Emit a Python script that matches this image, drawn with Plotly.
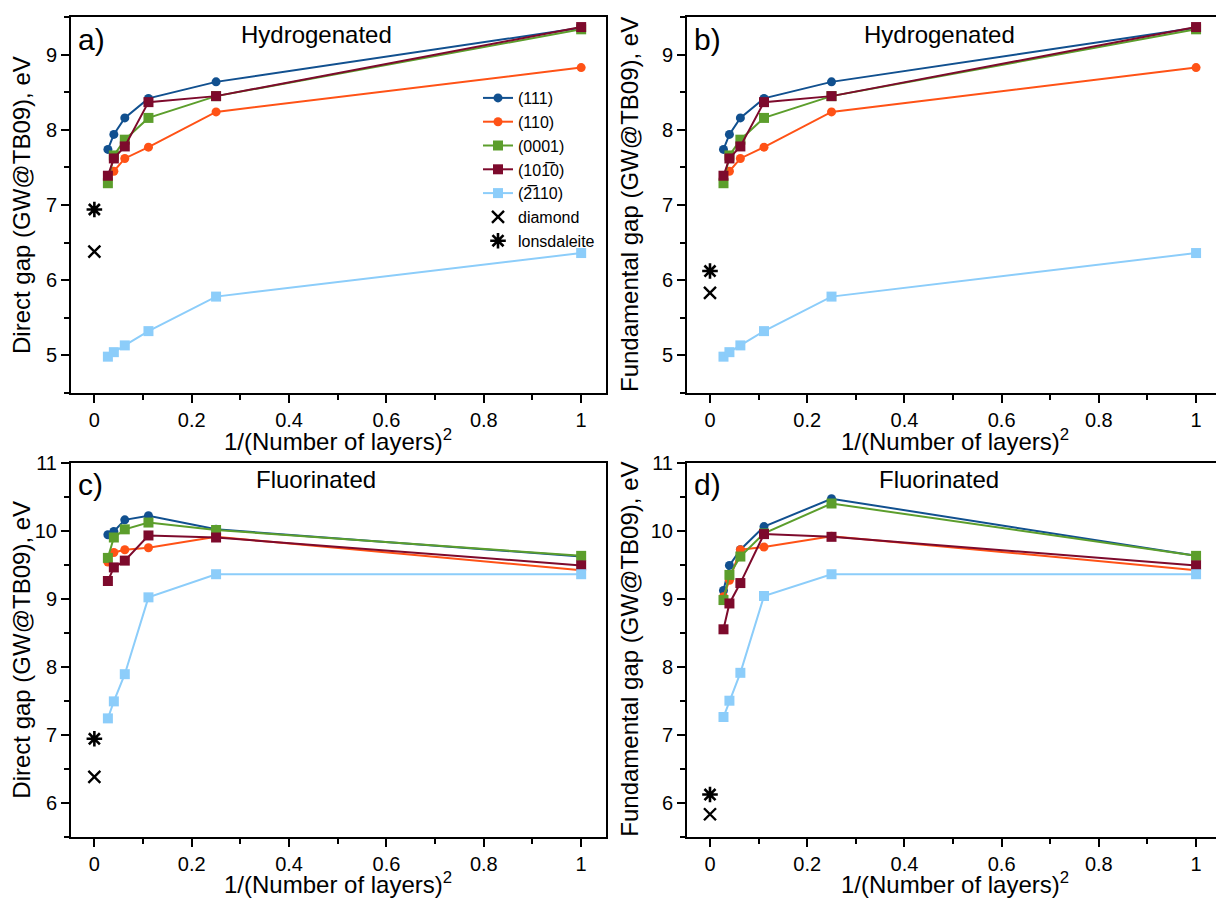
import plotly.graph_objects as go

# ---------------- data ----------------
layers = [6, 5, 4, 3, 2, 1]
x_inv2 = [1.0 / (n * n) for n in layers]

series_names = ["(111)", "(110)", "(0001)", "(101\u03050)", "(2\u0305110)"]
series_colors = ["#11508f", "#ff5216", "#5c9e2c", "#7d0a2c", "#8ccdfa"]
series_symbols = ["circle", "circle", "square", "square", "square"]

# Hydrogenated (same values in direct and fundamental panels)
h_111 = [7.74, 7.94, 8.16, 8.42, 8.64, 9.36]
h_110 = [7.37, 7.45, 7.62, 7.77, 8.24, 8.83]
h_0001 = [7.29, 7.66, 7.87, 8.16, 8.45, 9.34]
h_1010 = [7.39, 7.62, 7.78, 8.37, 8.45, 9.37]
h_2110 = [4.98, 5.04, 5.13, 5.32, 5.78, 6.36]

# Fluorinated, direct gap
fd_111 = [9.94, 9.99, 10.16, 10.22, 10.02, 9.62]
fd_110 = [9.54, 9.68, 9.72, 9.75, 9.91, 9.42]
fd_0001 = [9.60, 9.90, 10.02, 10.12, 10.01, 9.63]
fd_1010 = [9.26, 9.46, 9.56, 9.93, 9.90, 9.49]
fd_2110 = [7.24, 7.49, 7.89, 9.02, 9.36, 9.36]

# Fluorinated, fundamental gap
ff_111 = [9.12, 9.49, 9.72, 10.06, 10.47, 9.63]
ff_110 = [9.03, 9.27, 9.72, 9.76, 9.92, 9.42]
ff_0001 = [8.98, 9.35, 9.62, 9.96, 10.40, 9.63]
ff_1010 = [8.55, 8.93, 9.23, 9.95, 9.91, 9.49]
ff_2110 = [7.26, 7.50, 7.91, 9.04, 9.36, 9.36]

bulk_x = [0.0]
diamond_direct = [6.38]
lonsdaleite_direct = [6.94]
diamond_fund = [5.83]
lonsdaleite_fund = [6.12]

x_tickvals = [0, 0.2, 0.4, 0.6, 0.8, 1]
x_ticktext = ["0", "0.2", "0.4", "0.6", "0.8", "1"]
x_minorvals = [0.1, 0.3, 0.5, 0.7, 0.9]

panels = [
    dict(key="a", ys=[h_111, h_110, h_0001, h_1010, h_2110], dia=diamond_direct, lon=lonsdaleite_direct,
         ylabel="Direct gap (GW@TB09), eV", title="Hydrogenated"),
    dict(key="b", ys=[h_111, h_110, h_0001, h_1010, h_2110], dia=diamond_fund, lon=lonsdaleite_fund,
         ylabel="Fundamental gap (GW@TB09), eV", title="Hydrogenated"),
    dict(key="c", ys=[fd_111, fd_110, fd_0001, fd_1010, fd_2110], dia=diamond_direct, lon=lonsdaleite_direct,
         ylabel="Direct gap (GW@TB09), eV", title="Fluorinated"),
    dict(key="d", ys=[ff_111, ff_110, ff_0001, ff_1010, ff_2110], dia=diamond_fund, lon=lonsdaleite_fund,
         ylabel="Fundamental gap (GW@TB09), eV", title="Fluorinated"),
]

# ---------------- layout geometry (pixels) ----------------
W, H = 1216, 900
FONT = "Arial, Liberation Sans, sans-serif"
geo = {
    "a": dict(x0=71, x1=606, y0=17.3, y1=392.7, xr=[-0.048, 1.051], yr=[4.5, 9.5], xt=440),
    "b": dict(x0=687, x1=1216, y0=17.3, y1=392.7, xr=[-0.0473, 1.041], yr=[4.5, 9.5], xt=440),
    "c": dict(x0=71, x1=606, y0=462.7, y1=836.7, xr=[-0.048, 1.051], yr=[5.5, 11], xt=883),
    "d": dict(x0=687, x1=1216, y0=462.7, y1=836.7, xr=[-0.0473, 1.041], yr=[5.5, 11], xt=883),
}

fig = go.Figure()
annotations = []

for i, p in enumerate(panels):
    k = p["key"]
    g = geo[k]
    n = i + 1
    xa = "x" if n == 1 else f"x{n}"
    ya = "y" if n == 1 else f"y{n}"
    for j in range(5):
        fig.add_trace(go.Scatter(
            x=x_inv2, y=p["ys"][j], xaxis=xa, yaxis=ya, mode="lines+markers",
            name=series_names[j], showlegend=(n == 1), cliponaxis=False,
            line=dict(color=series_colors[j], width=2),
            marker=dict(symbol=series_symbols[j], size=9 if series_symbols[j] == "circle" else 10,
                        color=series_colors[j], line=dict(width=0)),
        ))
    fig.add_trace(go.Scatter(
        x=bulk_x, y=p["dia"], xaxis=xa, yaxis=ya, mode="markers", name="diamond",
        showlegend=(n == 1),
        marker=dict(symbol="x-thin-open", size=12, color="black", line=dict(width=2.4, color="black")),
    ))
    fig.add_trace(go.Scatter(
        x=bulk_x, y=p["lon"], xaxis=xa, yaxis=ya, mode="markers", name="lonsdaleite",
        showlegend=(n == 1),
        marker=dict(symbol="asterisk-open", size=13, color="black", line=dict(width=2.6, color="black")),
    ))

    right_frame = k in ("a", "c")
    xd = [g["x0"] / W, g["x1"] / W]
    yd = [1 - g["y1"] / H, 1 - g["y0"] / H]
    fig.update_layout(**{
        ("xaxis" if n == 1 else f"xaxis{n}"): dict(
            domain=xd, range=g["xr"], anchor=ya, showgrid=False, zeroline=False,
            showline=True, linecolor="black", linewidth=2, mirror=True,
            ticks="outside", ticklen=8, tickwidth=2, tickcolor="black",
            tickvals=x_tickvals, ticktext=x_ticktext,
            minor=dict(tickvals=x_minorvals, ticks="outside", ticklen=5, tickwidth=2, tickcolor="black"),
            tickfont=dict(family=FONT, size=20, color="black"), automargin=False,
        ),
        ("yaxis" if n == 1 else f"yaxis{n}"): dict(
            domain=yd, range=g["yr"], anchor=xa, showgrid=False, zeroline=False,
            showline=True, linecolor="black", linewidth=2, mirror=right_frame,
            ticks="outside", ticklen=8, tickwidth=2, tickcolor="black",
            dtick=1, tick0=0,
            minor=dict(dtick=0.5, tick0=0, ticks="outside", ticklen=5, tickwidth=2, tickcolor="black"),
            tickfont=dict(family=FONT, size=20, color="black"), automargin=False,
        ),
    })

    # y-axis title
    ytitle_x = 22 if k in ("a", "c") else 630
    annotations.append(dict(
        x=ytitle_x / W, y=1 - ((g["y0"] + g["y1"]) / 2) / H, xref="paper", yref="paper",
        text=p["ylabel"], textangle=-90, showarrow=False, xanchor="center", yanchor="middle",
        font=dict(family=FONT, size=24, color="black"),
    ))
    # x-axis title
    xc = (g["x0"] + (606 - 71 + g["x0"])) / 2
    annotations.append(dict(
        x=xc / W, y=1 - g["xt"] / H, xref="paper", yref="paper",
        text="1/(Number of layers)<sup>2</sup>", showarrow=False, xanchor="center", yanchor="middle",
        font=dict(family=FONT, size=24, color="black"),
    ))
    # panel label
    annotations.append(dict(
        x=(g["x0"] + 5) / W, y=1 - (g["y0"] + 22) / H, xref="paper", yref="paper",
        text=k + ")", showarrow=False, xanchor="left", yanchor="middle",
        font=dict(family=FONT, size=30, color="black"),
    ))
    # panel title
    tx = 316 if k in ("a", "c") else 939
    annotations.append(dict(
        x=tx / W, y=1 - (g["y0"] + 17) / H, xref="paper", yref="paper",
        text=p["title"], showarrow=False, xanchor="center", yanchor="middle",
        font=dict(family=FONT, size=24, color="black"),
    ))

fig.update_layout(
    width=W, height=H, margin=dict(l=0, r=0, t=0, b=0),
    paper_bgcolor="white", plot_bgcolor="white",
    annotations=annotations,
    legend=dict(x=478 / W, y=1 - 81 / H, xanchor="left", yanchor="top",
                bgcolor="rgba(0,0,0,0)", font=dict(family=FONT, size=16, color="black"),
                itemwidth=30, tracegroupgap=0),
    font=dict(family=FONT, color="black"),
)

fig.write_html("out.html", config={"displayModeBar": False},
               post_script="document.body.style.margin='0';document.body.style.overflow='hidden';")
